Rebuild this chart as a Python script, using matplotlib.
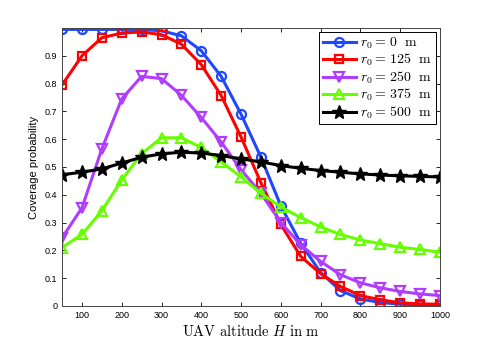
import numpy as np
import matplotlib
matplotlib.use('Agg')
import matplotlib.pyplot as plt

# UAV altitude H (m)
H = [50, 100, 150, 200, 250, 300, 350, 400, 450, 500,
     550, 600, 650, 700, 750, 800, 850, 900, 950, 1000]

p_r0_0 = [0.995, 0.995, 0.995, 0.995, 0.995, 0.99, 0.972, 0.918, 0.826, 0.69,
          0.535, 0.36, 0.225, 0.12, 0.055, 0.025, 0.012, 0.006, 0.004, 0.003]
p_r0_125 = [0.795, 0.90, 0.965, 0.982, 0.986, 0.976, 0.942, 0.868, 0.757, 0.608,
            0.443, 0.293, 0.178, 0.116, 0.07, 0.037, 0.022, 0.011, 0.007, 0.006]
p_r0_250 = [0.245, 0.353, 0.565, 0.745, 0.826, 0.818, 0.758, 0.678, 0.59, 0.49,
            0.405, 0.30, 0.22, 0.16, 0.112, 0.083, 0.065, 0.052, 0.043, 0.037]
p_r0_375 = [0.21, 0.257, 0.342, 0.453, 0.548, 0.605, 0.605, 0.57, 0.518, 0.464,
            0.405, 0.356, 0.318, 0.284, 0.257, 0.237, 0.224, 0.211, 0.203, 0.193]
p_r0_500 = [0.472, 0.481, 0.493, 0.514, 0.535, 0.547, 0.553, 0.55, 0.541, 0.529,
            0.518, 0.505, 0.495, 0.487, 0.481, 0.475, 0.471, 0.468, 0.466, 0.464]

labels = [r'$r_0 = \,0\ \ \mathrm{m}$', r'$r_0 = \,125\ \ \mathrm{m}$', r'$r_0 = \,250\ \ \mathrm{m}$',
          r'$r_0 = \,375\ \ \mathrm{m}$', r'$r_0 = \,500\ \ \mathrm{m}$']

plt.rcParams['font.family'] = 'Liberation Sans'
plt.rcParams['mathtext.fontset'] = 'cm'

fig = plt.figure(figsize=(4.85, 3.46), dpi=100)
ax = fig.add_axes([0.128, 0.116, 0.779, 0.803])

ax.plot(H, p_r0_0, color='#1f47ff', lw=2.2, marker='o', ms=6.5, mfc='none', mew=1.6, label=labels[0])
ax.plot(H, p_r0_125, color='#ff0000', lw=2.2, marker='s', ms=5.5, mfc='none', mew=1.6, label=labels[1])
ax.plot(H, p_r0_250, color='#b03cff', lw=2.2, marker='v', ms=7, mfc='none', mew=1.6, label=labels[2])
ax.plot(H, p_r0_375, color='#66ff00', lw=2.2, marker='^', ms=7, mfc='none', mew=1.6, label=labels[3])
ax.plot(H, p_r0_500, color='black', lw=2.2, marker='*', ms=10, label=labels[4])

ax.set_xlim(50, 1000)
ax.set_ylim(0, 1)
ax.set_xticks(range(100, 1001, 100))
ax.set_yticks(np.arange(0, 0.95, 0.1))
ax.set_yticklabels(['0', '0.1', '0.2', '0.3', '0.4', '0.5', '0.6', '0.7', '0.8', '0.9'])
ax.tick_params(direction='in', top=True, right=True, labelsize=6.5, length=3, width=0.6)
for s in ax.spines.values():
    s.set_linewidth(0.7)
    s.set_color('#444444')

ax.set_xlabel(r'$\mathrm{UAV\ altitude\ }H\mathrm{\ in\ m}$', fontsize=10.5, labelpad=2)
ax.set_ylabel('Coverage probability', fontsize=8, labelpad=4)

leg = ax.legend(loc='upper right', fontsize=10, handlelength=2.4, handletextpad=0.3,
                labelspacing=0.08, borderpad=0.25, fancybox=False, edgecolor='black',
                framealpha=1, borderaxespad=0.3)
leg.get_frame().set_linewidth(0.7)

plt.savefig('out.png', dpi=100)
